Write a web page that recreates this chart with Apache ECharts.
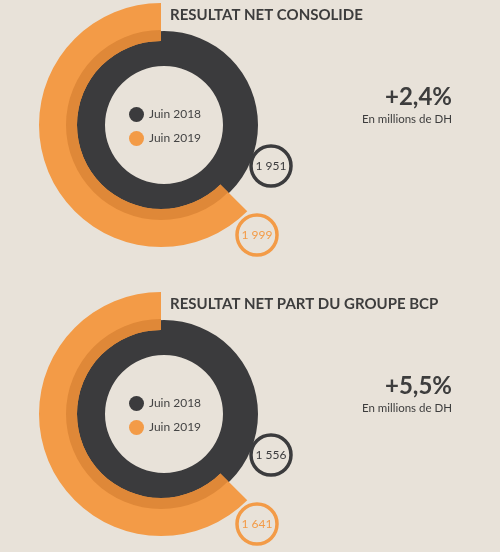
<!DOCTYPE html>
<html>
<head>
<meta charset="utf-8">
<script src="https://cdn.jsdelivr.net/npm/echarts@6/dist/echarts.min.js"></script>
<style>
html,body{margin:0;padding:0;background:#e8e2d9;}
#c{width:500px;height:552px;}
</style>
</head>
<body>
<div id="c"></div>
<script>
// ---- data ----
const CATEGORIES = ['Juin 2018', 'Juin 2019'];
const TITLES = ['RESULTAT NET CONSOLIDE', 'RESULTAT NET PART DU GROUPE BCP'];
const VALUES_2018 = [1951, 1556];
const VALUES_2019 = [1999, 1641];
const GROWTH = ['+2,4%', '+5,5%'];
const UNIT = 'En millions de DH';

// ---- style ----
const FONT = 'Lato, "Open Sans", sans-serif';
const DARK = '#3b3b3d';
const ORANGE = '#f39b47';
const ORANGE_DEEP = '#df8838';
const TEXT = '#3d3d3d';
const ARC_FRACTION = 0.625; // 2019 arc covers 5/8 of the circle in the design

function fmt(v) {
  const s = String(v);
  return s.replace(/\B(?=(\d{3})+(?!\d))/g, ' ');
}

const polar = [], angleAxis = [], radiusAxis = [], series = [], legend = [], graphic = [];
const DY = 289;

for (let i = 0; i < 2; i++) {
  const dy = i * DY;
  const cy = 125 + dy;
  const rings = [
    { center: [164, cy], radius: [59, 94], max: VALUES_2018[i], value: VALUES_2018[i], color: DARK, name: CATEGORIES[0], z: 2, clockwise: true },
    { center: [161, cy], radius: [84, 122], max: VALUES_2019[i] / ARC_FRACTION, value: VALUES_2019[i], color: ORANGE, name: CATEGORIES[1], z: 3, clockwise: false },
    { center: [161, cy], radius: [84, 95], max: VALUES_2019[i] / ARC_FRACTION, value: VALUES_2019[i], color: ORANGE_DEEP, name: CATEGORIES[1], z: 4, clockwise: false }
  ];
  rings.forEach(r => {
    const idx = polar.length;
    polar.push({ center: r.center, radius: r.radius });
    angleAxis.push({ polarIndex: idx, type: 'value', min: 0, max: r.max, startAngle: 90, clockwise: r.clockwise, show: false });
    radiusAxis.push({ polarIndex: idx, type: 'category', data: ['v'], show: false });
    series.push({
      type: 'bar', coordinateSystem: 'polar', polarIndex: idx, name: r.name,
      data: [r.value], barWidth: '100%', z: r.z,
      itemStyle: { color: r.color }, silent: true, animation: false
    });
  });

  legend.push({
    data: CATEGORIES, orient: 'vertical', left: 129, top: 107 + dy, padding: 0,
    icon: 'circle', itemWidth: 15, itemHeight: 15, itemGap: 9, selectedMode: false,
    textStyle: { fontSize: 12, color: '#444', fontFamily: FONT, padding: [0, 0, 0, 0] }
  });

  // title
  graphic.push({ type: 'text', left: 170, top: 8 + dy, style: { text: TITLES[i], fontSize: 15, fontWeight: 'bold', fill: TEXT, fontFamily: FONT } });
  // growth
  graphic.push({ type: 'text', right: 48, top: 85 + dy, style: { text: GROWTH[i], fontSize: 24, fontWeight: 'bold', fill: TEXT, fontFamily: FONT } });
  graphic.push({ type: 'text', right: 48, top: 113 + dy, style: { text: UNIT, fontSize: 11.5, fill: TEXT, fontFamily: FONT } });

  // value badges
  const badges = [
    { x: 271, y: 166 + dy, v: VALUES_2018[i], c: DARK },
    { x: 257, y: 235 + dy, v: VALUES_2019[i], c: ORANGE }
  ];
  badges.forEach(b => {
    graphic.push({ type: 'circle', shape: { cx: b.x, cy: b.y, r: 20 }, style: { fill: 'none', stroke: b.c, lineWidth: 3.5 }, z: 10 });
    graphic.push({ type: 'text', x: b.x, y: b.y, style: { text: fmt(b.v), fontSize: 12, fill: b.c, fontFamily: FONT, align: 'center', verticalAlign: 'middle' }, z: 11 });
  });
}

const chart = echarts.init(document.getElementById('c'), null, { renderer: 'canvas' });
chart.setOption({
  backgroundColor: '#e8e2d9',
  animation: false,
  polar, angleAxis, radiusAxis, series, legend, graphic
});
</script>
</body>
</html>
